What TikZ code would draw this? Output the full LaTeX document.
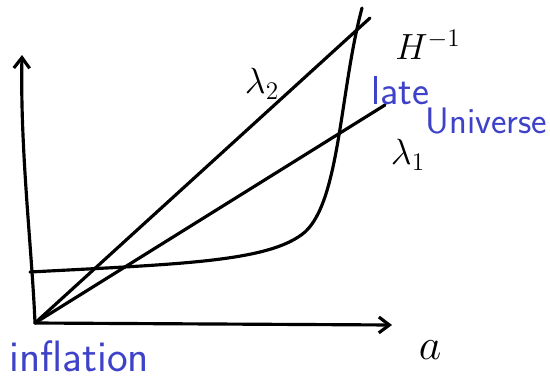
\documentclass[tikz,border=0pt]{standalone}
\usepackage{tikz}
\usepackage{xcolor}
\usetikzlibrary{arrows.meta}
\definecolor{penblue}{RGB}{62,66,200}

\begin{document}
\begin{tikzpicture}[x=0.02cm,y=-0.02cm,line width=1.8pt,line cap=round,line join=round]
        \useasboundingbox (0,0) rectangle (550,385);
        \coordinate (O) at (35,323);
        \coordinate (ytop) at (22,55);
        \coordinate (xend) at (392,325);
        \draw[-{Straight Barb[length=6pt,width=9pt]}] (O) -- (xend);
        \draw[-{Straight Barb[length=6pt,width=9pt]}] (O) .. controls (32,250) and (20,150) .. (ytop);
        \coordinate (l2end) at (370,18);
        \coordinate (l1end) at (385,105);
        \draw (O) -- (l2end);
        \draw (O) -- (l1end);
        \coordinate (Hstart) at (30,272);
        \coordinate (Hend) at (362,8);
        \draw (Hstart) .. controls (180,264) and (270,262) .. (305,232)
              .. controls (340,200) and (340,90) .. (Hend);
        \node[font=\fontsize{20}{24}\selectfont] (lam2) at (262,84) {$\lambda_2$};
        \node[font=\fontsize{20}{24}\selectfont] (lam1) at (408,155) {$\lambda_1$};
        \node[font=\fontsize{22}{26}\selectfont] (Hinv) at (428,45) {$H^{-1}$};
        \node[font=\fontsize{24}{28}\selectfont] (avar) at (430,350) {$a$};
        \node[penblue,font=\sffamily\fontsize{23}{26}\selectfont,anchor=west] (late) at (364,91) {late};
        \node[penblue,font=\sffamily\fontsize{21}{25}\selectfont,anchor=west] (univ) at (418,121) {Universe};
        \node[penblue,font=\sffamily\fontsize{25}{28}\selectfont,anchor=west] (infl) at (2,356) {inflation};
    \end{tikzpicture}
\end{document}
